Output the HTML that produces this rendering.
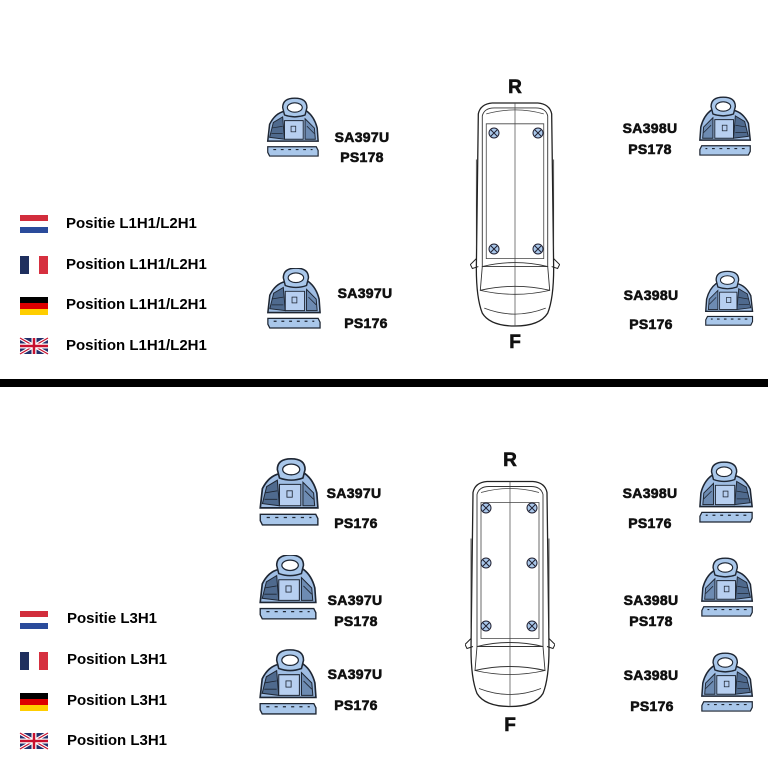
<!DOCTYPE html>
<html><head><meta charset="utf-8"><style>
body{margin:0;background:#fff;width:768px;height:768px;overflow:hidden;position:relative;font-family:"Liberation Sans",sans-serif}
.t{position:absolute;font-weight:bold;font-size:15px;color:#000;white-space:nowrap}
.l{position:absolute;font-weight:bold;font-size:14px;color:#111;white-space:nowrap;transform:translate(-50%,-50%);-webkit-text-stroke:0.6px #111;letter-spacing:0.3px}
.big{position:absolute;font-weight:bold;font-size:19px;color:#111;transform:translate(-50%,-50%);-webkit-text-stroke:0.6px #111}
svg{position:absolute;left:0;top:0}
</style></head><body>
<svg width="768" height="768" viewBox="0 0 768 768">
<defs>
<symbol id="br" viewBox="0 0 60 66">
<path d="M4 46 L6 28 Q12 16 22 14 L46 14 Q54 20 57 32 L58 46 Z" fill="#9fbde3" stroke="#1e2633" stroke-width="1.6"/>
<path d="M6 42 L10 26 L20 20 L22 44 Z" fill="#4f6a8e" stroke="#1e2633" stroke-width="1"/>
<path d="M22 24 L42 24 L42 44 L22 44 Z" fill="#b7cff0" stroke="#1e2633" stroke-width="1"/>
<path d="M44 22 L54 32 L55 44 L44 44 Z" fill="#6d8bb2" stroke="#1e2633" stroke-width="1"/>
<path d="M8 38 L20 38 M8 32 L20 30 M46 30 L54 38" stroke="#1e2633" stroke-width="0.8"/>
<rect x="29" y="30" width="5" height="6" fill="none" stroke="#1e2633" stroke-width="0.8"/>
<path d="M20 10 Q20 0 33 0 Q46 0 46 10 L44 18 Q33 22 22 18 Z" fill="#a9c7ea" stroke="#1e2633" stroke-width="1.5"/>
<ellipse cx="33" cy="10" rx="8" ry="5" fill="#fff" stroke="#1e2633" stroke-width="1.2"/>
<path d="M4 52 L56 52 L58 56 L58 62 L6 62 L4 58 Z" fill="#a9c7ea" stroke="#1e2633" stroke-width="1.3"/>
<path d="M10 55 L52 55" stroke="#1e2633" stroke-width="1.2" stroke-dasharray="3 5"/>
</symbol>
<symbol id="van" viewBox="0 0 90 230">
<path d="M8 14 Q10 4 22 3 L68 3 Q80 4 82 14 L84 170 Q84 200 78 215 Q70 228 45 228 Q20 228 12 215 Q6 200 6 170 Z" fill="#fff" stroke="#222" stroke-width="1.3"/>
<path d="M12 16 Q14 8 24 8 L66 8 Q76 8 78 16 L78 168 L12 168 Z" fill="none" stroke="#333" stroke-width="0.9"/>
<path d="M16 24 L74 24 L74 160 L16 160 Z" fill="none" stroke="#444" stroke-width="0.8"/>
<path d="M16 14 Q45 6 74 14" fill="none" stroke="#444" stroke-width="0.8"/>
<line x1="45" y1="3" x2="45" y2="228" stroke="#444" stroke-width="0.7"/>
<path d="M12 168 Q45 160 78 168 L80 192 Q45 184 10 192 Z" fill="none" stroke="#333" stroke-width="0.9"/>
<path d="M10 192 Q45 200 80 192 M14 210 Q45 222 76 210" fill="none" stroke="#333" stroke-width="0.8"/>
<path d="M6 160 L0 166 L2 170 L8 168 M84 160 L90 166 L88 170 L82 168" fill="none" stroke="#222" stroke-width="1"/>
<line x1="6" y1="60" x2="6" y2="150" stroke="#333" stroke-width="0.8"/>
<line x1="84" y1="60" x2="84" y2="150" stroke="#333" stroke-width="0.8"/>
</symbol>
<symbol id="bolt" viewBox="0 0 12 12">
<circle cx="6" cy="6" r="5" fill="#a9c7ea" stroke="#223" stroke-width="1"/>
<path d="M3 3 L9 9 M9 3 L3 9" stroke="#223" stroke-width="1"/>
</symbol>
</defs>
<rect x="0" y="379" width="768" height="8" fill="#000"/>
<use href="#van" x="470" y="100" width="90" height="228"/>
<use href="#van" x="465" y="475" width="90" height="237"/>
<use href="#bolt" x="488" y="127" width="12" height="12"/>
<use href="#bolt" x="532" y="127" width="12" height="12"/>
<use href="#bolt" x="488" y="243" width="12" height="12"/>
<use href="#bolt" x="532" y="243" width="12" height="12"/>
<use href="#bolt" x="480" y="502" width="12" height="12"/>
<use href="#bolt" x="526" y="502" width="12" height="12"/>
<use href="#bolt" x="480" y="557" width="12" height="12"/>
<use href="#bolt" x="526" y="557" width="12" height="12"/>
<use href="#bolt" x="480" y="620" width="12" height="12"/>
<use href="#bolt" x="526" y="620" width="12" height="12"/>
<use href="#br" x="264" y="97" width="56" height="64"/>
<use href="#br" x="264" y="268" width="58" height="64"/>
<use href="#br" x="256" y="458" width="64" height="72"/>
<use href="#br" x="256" y="555" width="62" height="68"/>
<use href="#br" x="256" y="648" width="62" height="72"/>
<g transform="translate(1454,0) scale(-1,1)">
<use href="#br" x="700" y="96" width="56" height="64"/>
<use href="#br" x="698" y="267" width="52" height="66"/>
<use href="#br" x="698" y="458" width="58" height="72"/>
<use href="#br" x="698" y="555" width="56" height="68"/>
<use href="#br" x="698" y="648" width="56" height="72"/>
</g>
<g id="flags1">
<rect x="20" y="215" width="28" height="6" fill="#d22d3c"/><rect x="20" y="221" width="28" height="6" fill="#fff"/><rect x="20" y="227" width="28" height="6" fill="#2a4b9b"/>
<rect x="20" y="256" width="9" height="18" fill="#1f2f5e"/><rect x="29" y="256" width="10" height="18" fill="#fff"/><rect x="39" y="256" width="9" height="18" fill="#d6303f"/>
<rect x="20" y="297" width="28" height="6" fill="#000"/><rect x="20" y="303" width="28" height="6" fill="#dd0000"/><rect x="20" y="309" width="28" height="6" fill="#ffce00"/>
</g>
<g>
<rect x="20" y="338" width="28" height="16" fill="#24306b"/>
<path d="M20 338 L48 354 M48 338 L20 354" stroke="#fff" stroke-width="3.5"/>
<path d="M20 338 L48 354 M48 338 L20 354" stroke="#c8102e" stroke-width="1.2"/>
<path d="M34 338 V354 M20 346 H48" stroke="#fff" stroke-width="5"/>
<path d="M34 338 V354 M20 346 H48" stroke="#c8102e" stroke-width="2.5"/>
</g>
<use href="#flags1" y="396"/>
<g transform="translate(0,395)">
<rect x="20" y="338" width="28" height="16" fill="#24306b"/>
<path d="M20 338 L48 354 M48 338 L20 354" stroke="#fff" stroke-width="3.5"/>
<path d="M20 338 L48 354 M48 338 L20 354" stroke="#c8102e" stroke-width="1.2"/>
<path d="M34 338 V354 M20 346 H48" stroke="#fff" stroke-width="5"/>
<path d="M34 338 V354 M20 346 H48" stroke="#c8102e" stroke-width="2.5"/>
</g>
</svg>
<div class="t" style="left:66px;top:215px">Positie L1H1/L2H1</div>
<div class="t" style="left:66px;top:256px">Position L1H1/L2H1</div>
<div class="t" style="left:66px;top:296px">Position L1H1/L2H1</div>
<div class="t" style="left:66px;top:337px">Position L1H1/L2H1</div>
<div class="t" style="left:67px;top:610px">Positie L3H1</div>
<div class="t" style="left:67px;top:651px">Position L3H1</div>
<div class="t" style="left:67px;top:692px">Position L3H1</div>
<div class="t" style="left:67px;top:732px">Position L3H1</div>
<div class="big" style="left:515px;top:88px">R</div>
<div class="big" style="left:515px;top:343px">F</div>
<div class="big" style="left:510px;top:461px">R</div>
<div class="big" style="left:510px;top:726px">F</div>
<div class="l" style="left:362px;top:137px">SA397U</div>
<div class="l" style="left:362px;top:157px">PS178</div>
<div class="l" style="left:365px;top:293px">SA397U</div>
<div class="l" style="left:366px;top:323px">PS176</div>
<div class="l" style="left:650px;top:128px">SA398U</div>
<div class="l" style="left:650px;top:149px">PS178</div>
<div class="l" style="left:651px;top:295px">SA398U</div>
<div class="l" style="left:651px;top:324px">PS176</div>
<div class="l" style="left:354px;top:493px">SA397U</div>
<div class="l" style="left:356px;top:523px">PS176</div>
<div class="l" style="left:355px;top:600px">SA397U</div>
<div class="l" style="left:356px;top:621px">PS178</div>
<div class="l" style="left:355px;top:674px">SA397U</div>
<div class="l" style="left:356px;top:705px">PS176</div>
<div class="l" style="left:650px;top:493px">SA398U</div>
<div class="l" style="left:650px;top:523px">PS176</div>
<div class="l" style="left:651px;top:600px">SA398U</div>
<div class="l" style="left:651px;top:621px">PS178</div>
<div class="l" style="left:651px;top:675px">SA398U</div>
<div class="l" style="left:652px;top:706px">PS176</div>
</body></html>
